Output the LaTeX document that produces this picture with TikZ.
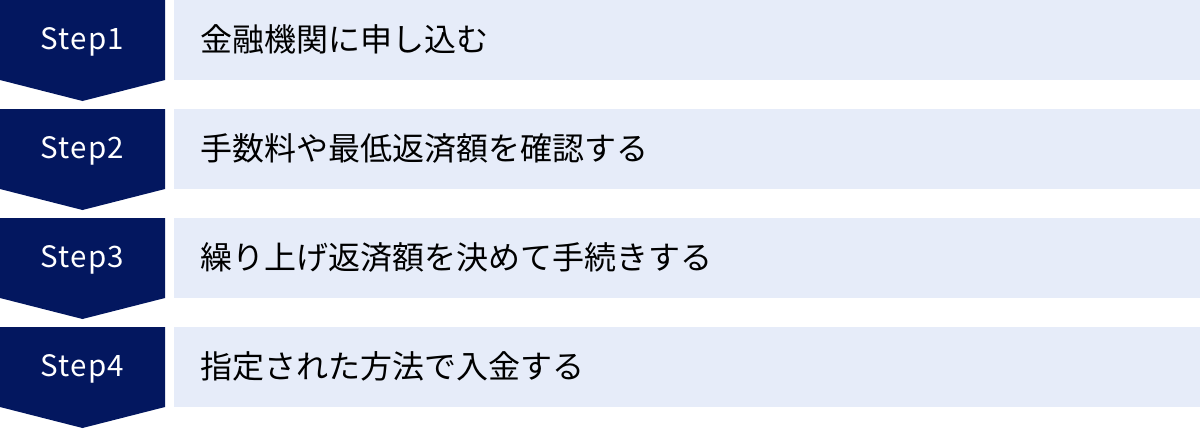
\documentclass[tikz,border=0pt]{standalone}
\usepackage{fontspec}
\setmainfont{Noto Sans CJK JP}
\newfontfamily\stepfont[LetterSpace=4]{Noto Sans CJK JP}
\definecolor{navy}{RGB}{3,23,95}
\definecolor{lightbg}{RGB}{230,236,249}
\tikzset{
  x=1pt,y=-1pt,
  stepshape/.style={fill=navy},
  itembox/.style={fill=lightbg},
  steplabel/.style={text=white,font=\stepfont\fontsize{29.5}{32}\selectfont,inner sep=0pt},
  itemlabel/.style={text=black,font=\fontsize{32}{36}\selectfont,anchor=west,inner sep=0pt}
}
\begin{document}
\begin{tikzpicture}
\useasboundingbox (0,0) rectangle (1200,429);
\foreach \i/\t in {1/金融機関に申し込む,2/手数料や最低返済額を確認する,3/繰り上げ返済額を決めて手続きする,4/指定された方法で入金する}{
  \pgfmathsetmacro{\yy}{(\i-1)*109}
  \fill[stepshape] (0,\yy) -- (165,\yy) -- (165,\yy+80) -- (82.5,\yy+101) -- (0,\yy+80) -- cycle;
  \fill[itembox] (174,\yy) rectangle (1200,\yy+80);
  \node[steplabel] (s\i) at (82.5,\yy+42) {Step\i};
  \node[itemlabel] (t\i) at (200,\yy+39) {\t};
}
\end{tikzpicture}
\end{document}
